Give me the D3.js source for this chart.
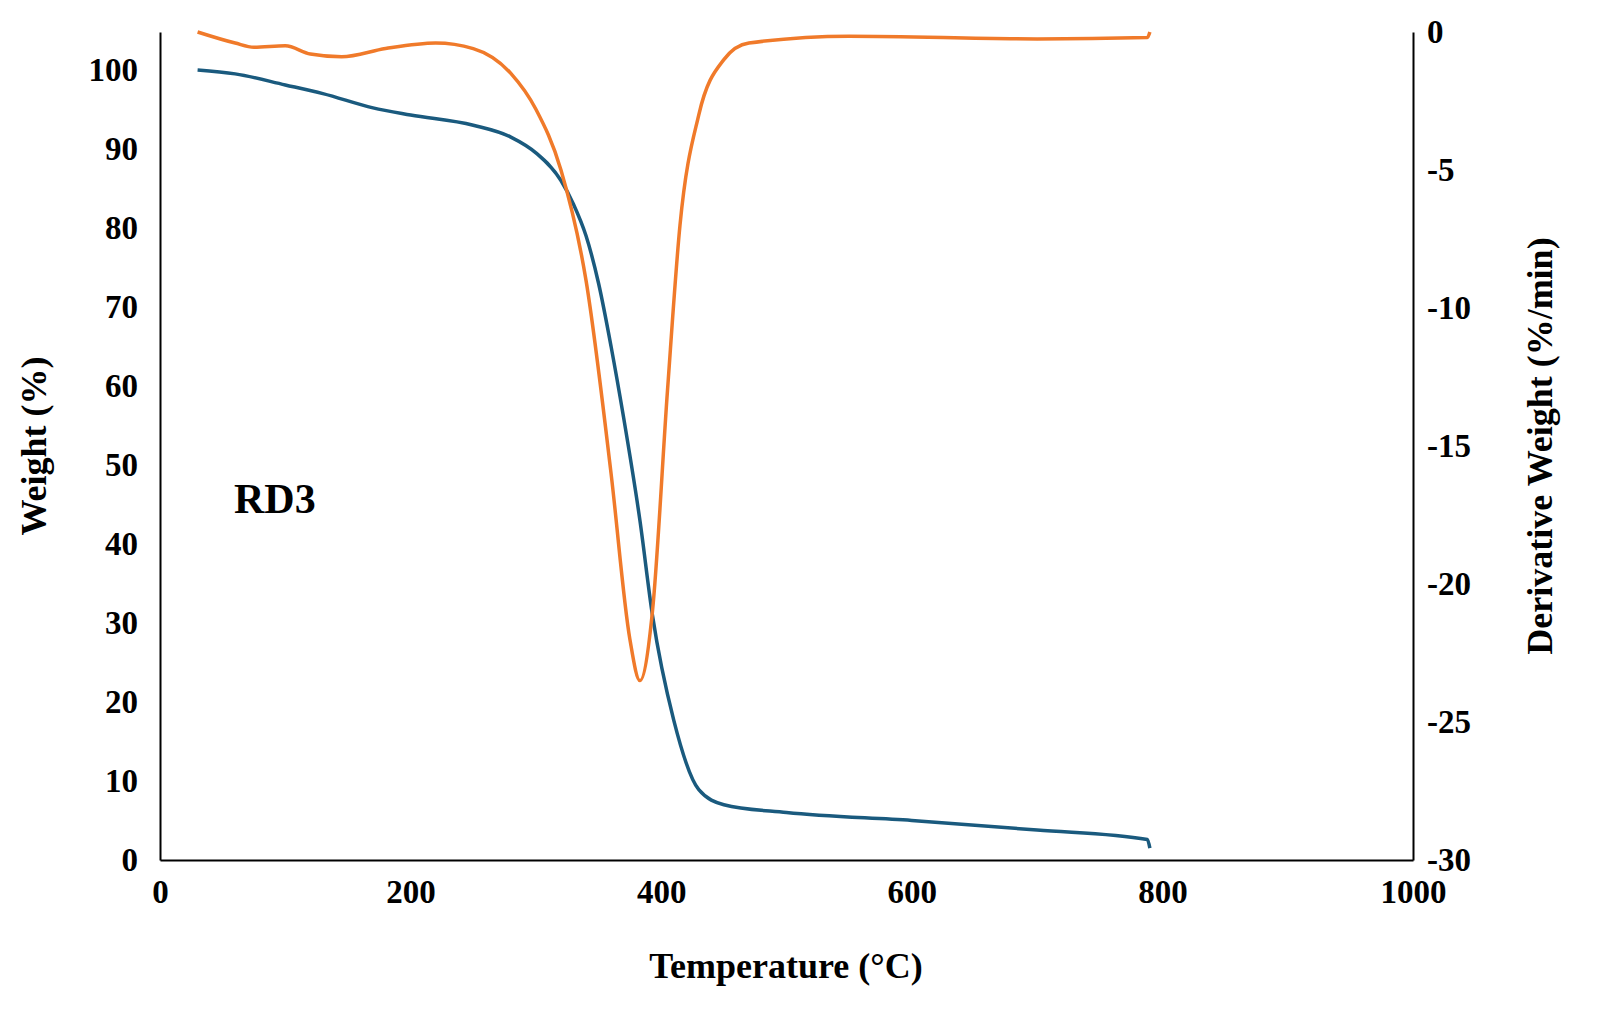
<!DOCTYPE html>
<html><head><meta charset="utf-8">
<script src="https://cdn.jsdelivr.net/npm/d3@7"></script>
<style>body{margin:0;background:#fff}text{font-family:"Liberation Serif",serif;font-weight:bold}</style>
</head><body><svg id="c" width="1600" height="1020"></svg>
<script>
const weightT = [30,60,100,130,170,200,250,280,300,320,330,340,350,360,370,383,393,410,430,450,500,600,700,788,790];
const weightV = [100,99.5,98.1,97,95.2,94.3,93,91.5,89.5,86,83,79,73,65,56,43,31,17.7,8.9,7,6,5,3.8,2.6,1.5];
const derivT = [30,60,75,100,120,145,180,220,250,280,300,320,340,360,375,383,393,405,415,430,450,470,550,700,788,790];
const derivV = [0,-0.4,-0.55,-0.5,-0.8,-0.9,-0.6,-0.4,-0.6,-1.5,-2.8,-5,-9,-16,-22,-23.5,-21,-13,-7,-3,-1,-0.4,-0.15,-0.25,-0.2,0];
const leftTicks = d3.range(0,101,10), rightTicks = [0,-5,-10,-15,-20,-25,-30], xTicks = [0,200,400,600,800,1000];

const svg = d3.select("#c");
const x = d3.scaleLinear().domain([0,1000]).range([160,1413]);
const yL = d3.scaleLinear().domain([0,104.8]).range([860,32]);
const yR = d3.scaleLinear().domain([-30,0]).range([860,32]);
const fmt = d => String(d);

const styleAxis = g => { g.selectAll("path,line").attr("stroke","#000").attr("stroke-width",2);
  g.selectAll("text").attr("font-size",33).attr("fill","#000"); };
svg.append("g").attr("transform","translate(0,860)").call(d3.axisBottom(x).tickValues(xTicks).tickFormat(fmt).tickSize(0).tickPadding(20).tickSizeOuter(0)).call(styleAxis);
svg.append("g").attr("transform","translate(160,0)").call(d3.axisLeft(yL).tickValues(leftTicks).tickFormat(fmt).tickSize(0).tickPadding(22).tickSizeOuter(0)).call(styleAxis);
svg.append("g").attr("transform","translate(1413,0)").call(d3.axisRight(yR).tickValues(rightTicks).tickFormat(fmt).tickSize(0).tickPadding(14).tickSizeOuter(0)).call(styleAxis);

const lw = d3.line().x((d,i)=>x(weightT[i])).y(d=>yL(d)).curve(d3.curveMonotoneX);
const ld = d3.line().x((d,i)=>x(derivT[i])).y(d=>yR(d)).curve(d3.curveMonotoneX);
svg.append("path").attr("d",lw(weightV)).attr("fill","none").attr("stroke","#1a5a7e").attr("stroke-width",3.5);
svg.append("path").attr("d",ld(derivV)).attr("fill","none").attr("stroke","#f07a2a").attr("stroke-width",3.5);

svg.append("text").attr("x",786).attr("y",978).attr("text-anchor","middle").attr("font-size",36).text("Temperature (°C)");
svg.append("text").attr("transform","translate(46,446) rotate(-90)").attr("text-anchor","middle").attr("font-size",36).text("Weight (%)");
svg.append("text").attr("transform","translate(1552,446) rotate(-90)").attr("text-anchor","middle").attr("font-size",36).text("Derivative Weight (%/min)");
svg.append("text").attr("x",234).attr("y",513).attr("font-size",42).text("RD3");
</script></body></html>
